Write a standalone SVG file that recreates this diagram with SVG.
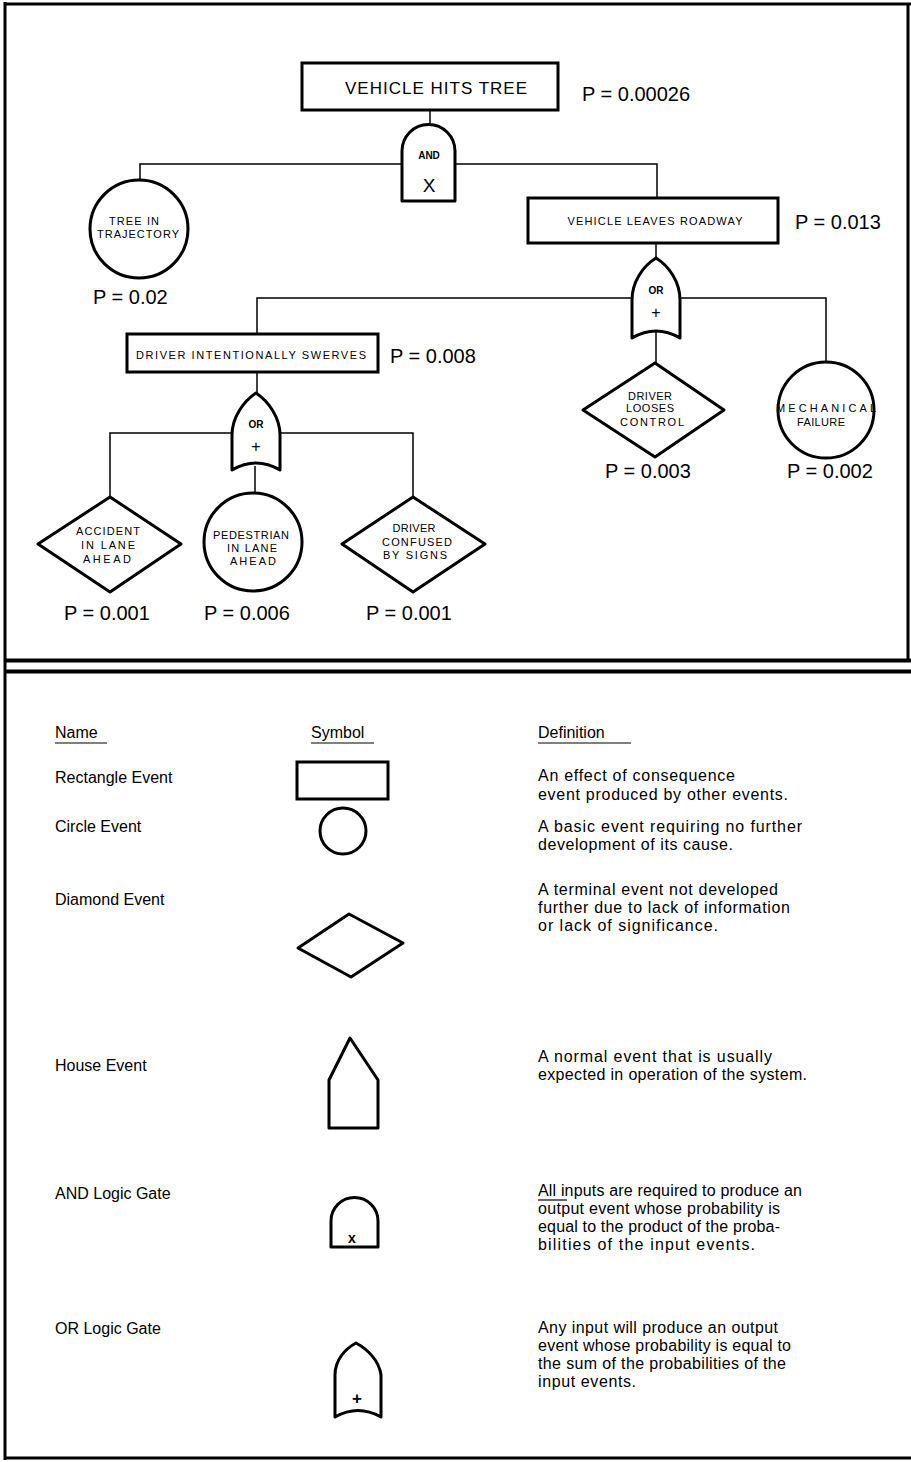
<svg xmlns="http://www.w3.org/2000/svg" width="911" height="1462" viewBox="0 0 911 1462">
<style>
text{font-family:"Liberation Sans",Arial,sans-serif;fill:#000}
.box{fill:#fff;stroke:#000;stroke-width:3}
.shape{fill:#fff;stroke:#000;stroke-width:3;stroke-linejoin:round}
.wire{fill:none;stroke:#000;stroke-width:1.5}
.lbl{font-size:11px;text-anchor:middle}
.gl{font-size:10px;font-weight:bold;text-anchor:middle}
.p{font-size:20px}
.big{font-size:17px;text-anchor:middle}
.leg{font-size:16px}
.frame{stroke:#000;stroke-width:3;fill:none}
.ul{stroke:#000;stroke-width:1.2}
</style>
<rect width="911" height="1462" fill="#fff"/>
<g id="frame" class="frame">
<line x1="5" y1="2" x2="5" y2="1460"/>
<line x1="5" y1="4" x2="911" y2="4"/>
<line x1="908" y1="4" x2="908" y2="660"/>
<line x1="5" y1="660.5" x2="911" y2="660.5" stroke-width="4"/>
<line x1="5" y1="671.5" x2="911" y2="671.5" stroke-width="4"/>
<line x1="5" y1="1458" x2="911" y2="1458"/>
</g>
<g id="connectors" class="wire">
<path d="M430,110 V125"/>
<path d="M402,164 H140 V180"/>
<path d="M455,164 H657 V198"/>
<path d="M656,243 V258"/>
<path d="M632,298 H257 V334"/>
<path d="M680,298 H826 V362"/>
<path d="M656,332 V363"/>
<path d="M257,372 V393"/>
<path d="M232,433 H110 V497"/>
<path d="M280,433 H413 V497"/>
<path d="M255,466 V493"/>
</g>
<g id="vehicle-hits-tree">
<rect class="box" x="302" y="63" width="256" height="47"/>
<text class="big" x="436" y="94" textLength="182">VEHICLE HITS TREE</text>
<text class="p" x="582" y="101">P = 0.00026</text>
</g>
<g id="and-gate">
<path class="shape" d="M402,201 V151 A26.5,26.5 0 0 1 455,151 V201 Z"/>
<text class="gl" x="429" y="159">AND</text>
<text x="429" y="192" font-size="19" text-anchor="middle">X</text>
</g>
<g id="tree-in-trajectory">
<circle class="shape" cx="139" cy="229" r="49"/>
<text class="lbl" x="134" y="225" font-size="10" textLength="50">TREE IN</text>
<text class="lbl" x="138" y="238" font-size="10" textLength="82">TRAJECTORY</text>
<text class="p" x="93" y="304">P = 0.02</text>
</g>
<g id="vehicle-leaves-roadway">
<rect class="box" x="528" y="198" width="250" height="45"/>
<text class="lbl" x="655" y="225" textLength="175">VEHICLE LEAVES ROADWAY</text>
<text class="p" x="795" y="229">P = 0.013</text>
</g>
<g id="or-gate-1">
<path class="shape" d="M632,338 V300 C632,282 643,266 656,258 C669,266 680,282 680,300 V338 Q656,324 632,338 Z"/>
<text class="gl" x="656" y="294">OR</text>
<text x="656" y="318" font-size="16" text-anchor="middle">+</text>
</g>
<g id="driver-intentionally-swerves">
<rect class="box" x="127" y="334" width="251" height="38"/>
<text class="lbl" x="251" y="359" textLength="230">DRIVER INTENTIONALLY SWERVES</text>
<text class="p" x="390" y="363">P = 0.008</text>
</g>
<g id="or-gate-2">
<path class="shape" d="M232,470 V435 C232,417 244,401 256,393 C268,401 280,417 280,435 V470 Q256,456 232,470 Z"/>
<text class="gl" x="256" y="428">OR</text>
<text x="256" y="452" font-size="16" text-anchor="middle">+</text>
</g>
<g id="driver-looses-control">
<polygon class="shape" points="655,363 724,410 655,457 583,410"/>
<text class="lbl" x="650" y="400" textLength="44">DRIVER</text>
<text class="lbl" x="650" y="412" textLength="48">LOOSES</text>
<text class="lbl" x="652" y="426" textLength="64">CONTROL</text>
<text class="p" x="605" y="478">P = 0.003</text>
</g>
<g id="mechanical-failure">
<circle class="shape" cx="826" cy="410" r="48"/>
<text class="lbl" x="826" y="412" textLength="100">MECHANICAL</text>
<text class="lbl" x="821" y="426" textLength="48">FAILURE</text>
<text class="p" x="787" y="478">P = 0.002</text>
</g>
<g id="accident-in-lane-ahead">
<polygon class="shape" points="110,497 181,544 110,592 38,544"/>
<text class="lbl" x="108" y="535" textLength="64">ACCIDENT</text>
<text class="lbl" x="108" y="549" textLength="54">IN LANE</text>
<text class="lbl" x="107" y="563" textLength="48">AHEAD</text>
<text class="p" x="64" y="620">P = 0.001</text>
</g>
<g id="pedestrian-in-lane-ahead">
<circle class="shape" cx="253" cy="542" r="49"/>
<text class="lbl" x="251" y="539" textLength="76">PEDESTRIAN</text>
<text class="lbl" x="252" y="552" textLength="50">IN LANE</text>
<text class="lbl" x="253" y="565" textLength="46">AHEAD</text>
<text class="p" x="204" y="620">P = 0.006</text>
</g>
<g id="driver-confused-by-signs">
<polygon class="shape" points="413,497 485,544 413,592 342,544"/>
<text class="lbl" x="414" y="532" textLength="43">DRIVER</text>
<text class="lbl" x="417" y="546" textLength="70">CONFUSED</text>
<text class="lbl" x="415" y="559" textLength="64">BY SIGNS</text>
<text class="p" x="366" y="620">P = 0.001</text>
</g>
<g id="legend">
<text class="leg" x="55" y="738">Name</text>
<line class="ul" x1="55" y1="743" x2="107" y2="743"/>
<text class="leg" x="311" y="738">Symbol</text>
<line class="ul" x1="311" y1="743" x2="374" y2="743"/>
<text class="leg" x="538" y="738">Definition</text>
<line class="ul" x1="538" y1="743" x2="631" y2="743"/>

<text class="leg" x="55" y="783">Rectangle Event</text>
<rect class="box" x="297" y="762" width="91" height="37"/>
<text class="leg" x="538" y="781" textLength="197">An effect of consequence</text>
<text class="leg" x="538" y="800" textLength="250">event produced by other events.</text>

<text class="leg" x="55" y="832">Circle Event</text>
<circle class="shape" cx="343" cy="831" r="23"/>
<text class="leg" x="538" y="832" textLength="264">A basic event requiring no further</text>
<text class="leg" x="538" y="850" textLength="195">development of its cause.</text>

<text class="leg" x="55" y="905">Diamond Event</text>
<polygon class="shape" points="349,914 403,943 351,977 298,948"/>
<text class="leg" x="538" y="895" textLength="240">A terminal event not developed</text>
<text class="leg" x="538" y="913" textLength="252">further due to lack of information</text>
<text class="leg" x="538" y="931" textLength="180">or lack of significance.</text>

<text class="leg" x="55" y="1071">House Event</text>
<polygon class="shape" points="350,1038 378,1080 378,1128 329,1128 329,1080"/>
<text class="leg" x="538" y="1062" textLength="234">A normal event that is usually</text>
<text class="leg" x="538" y="1080" textLength="269">expected in operation of the system.</text>

<text class="leg" x="55" y="1199">AND Logic Gate</text>
<path class="shape" d="M331,1247 V1221 A23.5,23.5 0 0 1 378,1221 V1247 Z"/>
<text x="352" y="1243" font-size="14" font-weight="bold" text-anchor="middle">x</text>
<text class="leg" x="538" y="1196" textLength="264">All inputs are required to produce an</text>
<line class="ul" x1="538" y1="1200" x2="567" y2="1200"/>
<text class="leg" x="538" y="1214" textLength="242">output event whose probability is</text>
<text class="leg" x="538" y="1232" textLength="242">equal to the product of the proba-</text>
<text class="leg" x="538" y="1250" textLength="217">bilities of the input events.</text>

<text class="leg" x="55" y="1334">OR Logic Gate</text>
<path class="shape" d="M335,1417 V1375 C335,1360 345,1349 356,1343 C367,1349 379,1360 381,1375 V1417 Q358,1404 335,1417 Z"/>
<text x="357" y="1404" font-size="17" font-weight="bold" text-anchor="middle">+</text>
<text class="leg" x="538" y="1333" textLength="240">Any input will produce an output</text>
<text class="leg" x="538" y="1351" textLength="253">event whose probability is equal to</text>
<text class="leg" x="538" y="1369" textLength="248">the sum of the probabilities of the</text>
<text class="leg" x="538" y="1387" textLength="98">input events.</text>
</g>
</svg>
